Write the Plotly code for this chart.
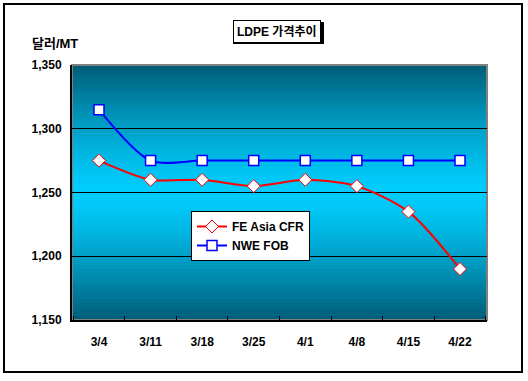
import plotly.graph_objects as go

dates = ["3/4", "3/11", "3/18", "3/25", "4/1", "4/8", "4/15", "4/22"]
fe_asia_cfr = [1275, 1260, 1260, 1255, 1260, 1255, 1235, 1190]
nwe_fob = [1315, 1275, 1275, 1275, 1275, 1275, 1275, 1275]
y_ticks = [1150, 1200, 1250, 1300, 1350]
y_tick_labels = ["1,150", "1,200", "1,250", "1,300", "1,350"]

FONT = "Liberation Sans, Arial, Noto Sans CJK KR, sans-serif"

fig = go.Figure()
fig.add_trace(go.Scatter(
    x=dates, y=fe_asia_cfr, name="FE Asia CFR", mode="lines+markers",
    line=dict(color="#FF0000", width=2, shape="spline", smoothing=0.8),
    marker=dict(symbol="diamond", size=10, color="white", line=dict(color="#FF0000", width=1)),
))
fig.add_trace(go.Scatter(
    x=dates, y=nwe_fob, name="NWE FOB", mode="lines+markers",
    line=dict(color="#0000FF", width=2, shape="spline", smoothing=0.8),
    marker=dict(symbol="square", size=10, color="white", line=dict(color="#0000FF", width=1.5)),
))

L, R, T, B = 72, 487, 65, 320
PW, PH = R - L, B - T


def px(x):
    return (x - L) / PW


def py(y):
    return (B - y) / PH


shapes = []
# gradient background of plot area
n = 60
top = (0, 92, 118)
mid = (0, 206, 255)
for i in range(n):
    f = (i + 0.5) / n
    t = abs(f - 0.5) / 0.5
    t = t ** 1.3
    c = tuple(int(round(mid[k] + (top[k] - mid[k]) * t)) for k in range(3))
    shapes.append(dict(type="rect", xref="x domain", yref="y domain",
                       x0=0, x1=1, y0=i / n, y1=(i + 1) / n + 0.002,
                       fillcolor="rgb(%d,%d,%d)" % c, line=dict(width=0), layer="below"))
# plot area border (gray top/right)
shapes.append(dict(type="rect", xref="x domain", yref="y domain", x0=0, x1=1, y0=0, y1=1,
                   line=dict(color="#808080", width=2), layer="below"))
# outer frame
shapes.append(dict(type="rect", xref="paper", yref="paper",
                   x0=px(4), x1=px(522), y0=py(372), y1=py(4),
                   line=dict(color="black", width=2)))
# title shadow
shapes.append(dict(type="rect", xref="paper", yref="paper",
                   x0=px(233), x1=px(324), y0=py(44), y1=py(22),
                   fillcolor="black", line=dict(width=0)))
fig.update_layout(shapes=shapes)

fig.add_annotation(text="<b>LDPE 가격추이</b>", xref="paper", yref="paper", x=px(276.5), y=py(31),
                   xanchor="center", yanchor="middle",
                   showarrow=False, font=dict(family=FONT, size=12, color="black"),
                   bgcolor="white", bordercolor="black", borderwidth=1, borderpad=3)
fig.add_annotation(text="<b>달러/MT</b>", xref="paper", yref="paper", x=px(55), y=py(43),
                   xanchor="center", yanchor="middle",
                   showarrow=False, font=dict(family=FONT, size=13, color="black"))

fig.update_layout(
    width=528, height=381,
    margin=dict(l=L, r=528 - R, t=T, b=381 - B),
    paper_bgcolor="white", plot_bgcolor="#00CCFF",
    font=dict(family=FONT, size=12, color="black"),
    showlegend=True,
    legend=dict(x=px(191), y=py(211), xanchor="left", yanchor="top",
                bgcolor="white", bordercolor="black", borderwidth=1,
                font=dict(family=FONT, size=12, color="black", weight="bold"),
                tracegroupgap=0, itemwidth=30),
    xaxis=dict(type="category", showgrid=False, showline=True, linecolor="black", linewidth=2,
               ticks="inside", tickson="boundaries", ticklen=4, tickcolor="black",
               tickfont=dict(family=FONT, size=12, weight="bold"), ticklabelstandoff=10),
    yaxis=dict(range=[1150, 1350], tickvals=y_ticks, ticktext=y_tick_labels,
               showgrid=True, gridcolor="black", gridwidth=1,
               showline=True, linecolor="black", linewidth=2, ticks="", zeroline=False,
               tickfont=dict(family=FONT, size=12, weight="bold"), ticklabelstandoff=6),
)

fig.write_html("out.html", config={"displayModeBar": False},
               post_script="document.body.style.margin='0px';")
